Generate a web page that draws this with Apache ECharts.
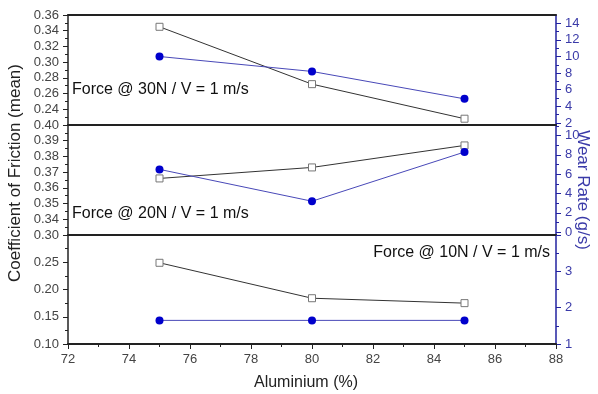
<!DOCTYPE html>
<html><head><meta charset="utf-8">
<script src="https://cdn.jsdelivr.net/npm/echarts@6/dist/echarts.min.js"></script>
<style>html,body{margin:0;padding:0;background:#fff}#c{width:598px;height:394px}</style>
</head><body><div id="c"></div>
<script>
const aluminium = [75, 80, 85];
const cof30 = [0.345, 0.272, 0.228];
const wear30 = [10.0, 8.2, 4.9];
const cof20 = [0.366, 0.373, 0.387];
const wear20 = [6.5, 3.2, 8.3];
const cof10 = [0.249, 0.184, 0.175];
const wear10 = [1.65, 1.65, 1.65];
const panelLabels = ['Force @ 30N / V = 1 m/s', 'Force @ 20N / V = 1 m/s', 'Force @ 10N / V = 1 m/s'];
const wearLabels30 = [2, 4, 6, 8, 10, 12, 14];
const wearMinor30 = [3, 5, 7, 9, 11, 13];
const wearLabels20 = [0, 2, 4, 6, 8, 10];
const wearMinor20 = [1, 3, 5, 7, 9, 11];
const wearLabels10 = [1, 2, 3, 4];
const wearMinor10 = [1.5, 2.5, 3.5];

const FONT = 'Liberation Sans, Arial, sans-serif';
const BLUE = '#2222a0';
const BLUE_TXT = '#3a3aa8';
const grids = [
  {left: 68, right: 42, top: 15, height: 110},
  {left: 68, right: 42, top: 125, height: 110},
  {left: 68, right: 42, top: 235, height: 109}
];
const panels = [
  {cof: cof30, wear: wear30, lmin: 0.22, lmax: 0.36, lint: 0.02, lhideMin: true,
   rmin: 1.75, rmax: 15, rlab: wearLabels30, rminor: wearMinor30},
  {cof: cof20, wear: wear20, lmin: 0.33, lmax: 0.40, lint: 0.01, lhideMin: true,
   rmin: -0.3, rmax: 11.1, rlab: wearLabels20, rminor: wearMinor20},
  {cof: cof10, wear: wear10, lmin: 0.10, lmax: 0.30, lint: 0.05, lhideMin: false,
   rmin: 1, rmax: 4, rlab: wearLabels10.filter(v => v < 4), rminor: wearMinor10, rticks: wearLabels10}
];

const xAxis = [], yAxis = [], series = [];
panels.forEach((p, g) => {
  const bottom = g === 2;
  xAxis.push({
    type: 'value', gridIndex: g, min: 72, max: 88, interval: 2,
    axisLine: {show: true, onZero: false, lineStyle: {color: '#222', width: 2}},
    axisTick: {show: bottom, length: 5, lineStyle: {color: '#222'}},
    minorTick: {show: bottom, splitNumber: 2, length: 3, lineStyle: {color: '#222'}},
    splitLine: {show: false},
    axisLabel: {show: bottom, color: '#444', fontSize: 13, fontFamily: FONT, margin: 9}
  });
  yAxis.push({
    type: 'value', gridIndex: g, position: 'left', min: p.lmin, max: p.lmax, interval: p.lint,
    axisLine: {show: true, onZero: false, lineStyle: {color: '#222', width: 1.5}},
    axisTick: {show: true, length: 5, lineStyle: {color: '#222'}},
    minorTick: {show: true, splitNumber: 2, length: 3, lineStyle: {color: '#222'}},
    splitLine: {show: false},
    axisLabel: {showMinLabel: !p.lhideMin, formatter: v => v.toFixed(2), color: '#444',
      fontSize: 13, fontFamily: FONT, margin: 9}
  });
  yAxis.push({
    type: 'value', gridIndex: g, position: 'right', min: p.rmin, max: p.rmax,
    axisLine: {show: true, onZero: false, lineStyle: {color: BLUE, width: 1.5}},
    axisTick: {show: true, length: 5, customValues: p.rticks || p.rlab, lineStyle: {color: BLUE}},
    splitLine: {show: false},
    axisLabel: {customValues: p.rlab, color: BLUE_TXT, fontSize: 13, fontFamily: FONT, margin: 9}
  });
  yAxis.push({
    type: 'value', gridIndex: g, position: 'right', min: p.rmin, max: p.rmax,
    axisLine: {show: false},
    axisTick: {show: true, length: 3, customValues: p.rminor, lineStyle: {color: BLUE}},
    splitLine: {show: false},
    axisLabel: {show: false}
  });
  series.push({
    type: 'line', xAxisIndex: g, yAxisIndex: 3 * g,
    data: aluminium.map((x, i) => [x, p.cof[i]]),
    symbol: 'rect', symbolSize: 7,
    lineStyle: {color: '#333', width: 1},
    itemStyle: {color: '#fff', borderColor: '#777', borderWidth: 1},
    z: 3, animation: false
  });
  series.push({
    type: 'line', xAxisIndex: g, yAxisIndex: 3 * g + 1,
    data: aluminium.map((x, i) => [x, p.wear[i]]),
    symbol: 'circle', symbolSize: 8,
    lineStyle: {color: '#4848b8', width: 1},
    itemStyle: {color: '#0000cc', borderWidth: 0},
    z: 4, animation: false
  });
});
// top border of the figure
xAxis.push({
  type: 'value', gridIndex: 0, position: 'top', min: 72, max: 88,
  axisLine: {show: true, onZero: false, lineStyle: {color: '#222', width: 2}},
  axisTick: {show: false}, axisLabel: {show: false}, splitLine: {show: false}
});

const chart = echarts.init(document.getElementById('c'), null, {renderer: 'canvas'});
chart.setOption({
  animation: false,
  backgroundColor: '#fff',
  grid: grids,
  xAxis, yAxis, series,
  graphic: [
    {type: 'text', left: 72, top: 82, style: {text: panelLabels[0], fill: '#111', font: '16px ' + FONT}},
    {type: 'text', left: 72, top: 206, style: {text: panelLabels[1], fill: '#111', font: '16px ' + FONT}},
    {type: 'text', right: 48, top: 245, style: {text: panelLabels[2], fill: '#111', font: '16px ' + FONT}},
    {type: 'text', x: 306, y: 383,
     style: {text: 'Aluminium (%)', fill: '#222', font: '16px ' + FONT, align: 'center', verticalAlign: 'middle'}},
    {type: 'text', x: 15, y: 173, rotation: Math.PI / 2,
     style: {text: 'Coefficient of Friction (mean)', fill: '#222', font: '17px ' + FONT, align: 'center', verticalAlign: 'middle'}},
    {type: 'text', x: 583, y: 190, rotation: -Math.PI / 2,
     style: {text: 'Wear Rate (g/s)', fill: BLUE_TXT, font: '17px ' + FONT, align: 'center', verticalAlign: 'middle'}}
  ]
});
</script></body></html>
